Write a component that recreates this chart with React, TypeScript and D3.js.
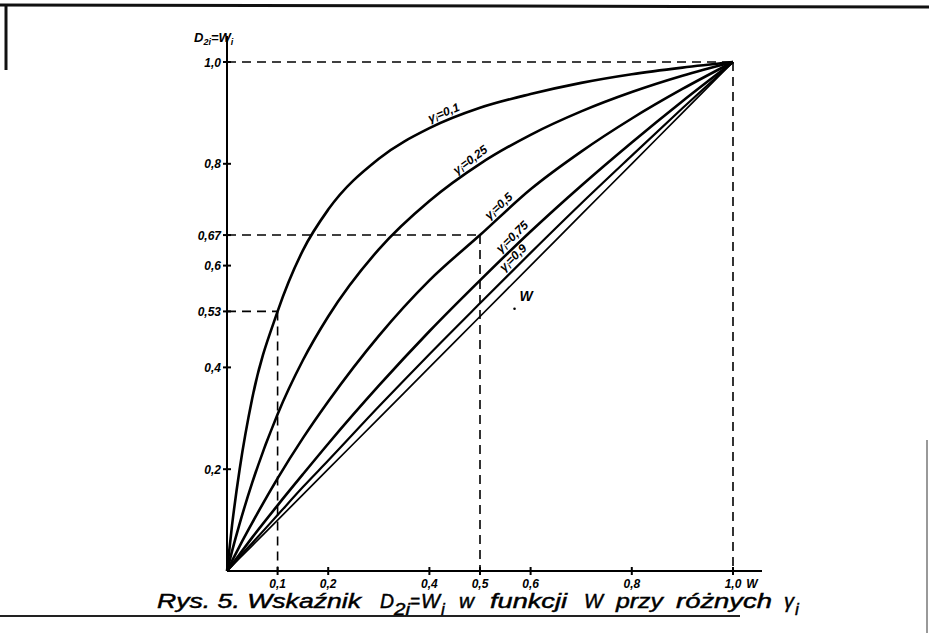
import React from "react";
import * as d3 from "d3";

const wValues = [0, 0.01, 0.025, 0.05, 0.1, 0.15, 0.2, 0.3, 0.4, 0.5, 0.6, 0.7, 0.8, 0.9, 1.0];
const gamma01 = [0, 0.09, 0.2, 0.34, 0.51, 0.63, 0.71, 0.81, 0.87, 0.91, 0.937, 0.959, 0.976, 0.989, 1];
const gamma025 = [0, 0.039, 0.093, 0.174, 0.308, 0.414, 0.5, 0.632, 0.727, 0.8, 0.857, 0.903, 0.941, 0.973, 1];
const gamma05 = [0, 0.02, 0.049, 0.095, 0.182, 0.261, 0.333, 0.462, 0.571, 0.66, 0.75, 0.824, 0.889, 0.947, 1];
const gamma075 = [0, 0.013, 0.033, 0.066, 0.129, 0.19, 0.25, 0.364, 0.471, 0.571, 0.667, 0.757, 0.842, 0.923, 1];
const gamma09 = [0, 0.011, 0.028, 0.055, 0.11, 0.165, 0.217, 0.323, 0.426, 0.526, 0.625, 0.722, 0.816, 0.909, 1];
const gammaW = [0, 0.01, 0.025, 0.05, 0.1, 0.15, 0.2, 0.3, 0.4, 0.5, 0.6, 0.7, 0.8, 0.9, 1.0];

const seriesNames = ["0,1", "0,25", "0,5", "0,75", "0,9", "W"];
const seriesValues = [gamma01, gamma025, gamma05, gamma075, gamma09, gammaW];
const labelAtW = [0.405, 0.46, 0.525, 0.548, 0.555, 0.59];

const xTickValues = [0.1, 0.2, 0.4, 0.5, 0.6, 0.8, 1.0];
const xTickLabels = ["0,1", "0,2", "0,4", "0,5", "0,6", "0,8", "1,0"];
const yTickValues = [0.2, 0.4, 0.51, 0.6, 0.66, 0.8, 1.0];
const yTickLabels = ["0,2", "0,4", "0,53", "0,6", "0,67", "0,8", "1,0"];

// guide points (W, D) marked with dashed lines
const guideW = [0.1, 0.5, 1.0];
const guideD = [0.51, 0.66, 1.0];

const W = 929;
const H = 637;

export default function App() {
  const x = d3.scaleLinear().domain([0, 1]).range([227, 733]);
  const y = d3.scaleLinear().domain([0, 1]).range([571, 62]);

  const line = d3
    .line<[number, number]>()
    .x((d) => x(d[0]))
    .y((d) => y(d[1]))
    .curve(d3.curveMonotoneX);

  const interp = (vals: number[], w: number) => {
    for (let i = 1; i < wValues.length; i++) {
      if (w <= wValues[i]) {
        const t = (w - wValues[i - 1]) / (wValues[i] - wValues[i - 1]);
        return vals[i - 1] + t * (vals[i] - vals[i - 1]);
      }
    }
    return vals[vals.length - 1];
  };

  const tickFont = {
    fontFamily: "Liberation Sans, Arial, sans-serif",
    fontStyle: "italic" as const,
    fontWeight: 700,
    fontSize: 12,
  };

  return (
    <div style={{ position: "absolute", left: 0, top: 0, width: W, height: H, background: "#fff" }}>
      <svg width={W} height={H} viewBox={`0 0 ${W} ${H}`} style={{ display: "block" }}>
        <rect x={0} y={0} width={W} height={H} fill="#fff" />
        {/* scan frame */}
        <line x1={0} y1={5} x2={W} y2={7} stroke="#111" strokeWidth={3} />
        <line x1={6} y1={4} x2={6} y2={70} stroke="#111" strokeWidth={3} />
        <line x1={0} y1={616} x2={740} y2={616} stroke="#222" strokeWidth={2} />
        <line x1={927} y1={440} x2={927} y2={633} stroke="#999" strokeWidth={2} />

        {/* dashed guides */}
        {guideW.map((gw, i) => (
          <g key={"g" + i}>
            <line x1={x(0)} y1={y(guideD[i])} x2={x(gw)} y2={y(guideD[i])} stroke="#000" strokeWidth={1.6} strokeDasharray="9,6" />
            <line x1={x(gw)} y1={y(guideD[i])} x2={x(gw)} y2={y(0)} stroke="#000" strokeWidth={1.6} strokeDasharray="9,6" />
          </g>
        ))}

        {/* axes */}
        <line x1={x(0)} y1={y(0)} x2={x(0)} y2={36} stroke="#000" strokeWidth={2} />
        <line x1={x(0)} y1={y(0)} x2={762} y2={y(0)} stroke="#000" strokeWidth={2} />
        {xTickValues.map((v, i) => (
          <g key={"xt" + i}>
            <line x1={x(v)} y1={y(0) - 4} x2={x(v)} y2={y(0) + 4} stroke="#000" strokeWidth={2} />
            <text x={x(v)} y={y(0) + 17} textAnchor="middle" {...tickFont}>
              {xTickLabels[i]}
            </text>
          </g>
        ))}
        <text x={752} y={y(0) + 17} textAnchor="middle" {...tickFont}>W</text>
        {yTickValues.map((v, i) => (
          <g key={"yt" + i}>
            <line x1={x(0) - 4} y1={y(v)} x2={x(0) + 4} y2={y(v)} stroke="#000" strokeWidth={2} />
            <text x={x(0) - 6} y={y(v) + 4.5} textAnchor="end" {...tickFont}>
              {yTickLabels[i]}
            </text>
          </g>
        ))}
        <text x={194} y={42} {...tickFont} fontSize={13}>
          D<tspan fontSize={9} dy={3}>2i</tspan>
          <tspan dy={-3}>=W</tspan>
          <tspan fontSize={9} dy={3}>i</tspan>
        </text>

        {/* curves */}
        {seriesValues.map((vals, si) => {
          const pts = wValues.map((w, i) => [w, vals[i]] as [number, number]);
          const isW = seriesNames[si] === "W";
          return (
            <path
              key={"c" + si}
              d={line(pts) || ""}
              fill="none"
              stroke="#000"
              strokeWidth={isW ? 1.7 : si === 4 ? 2.2 : 2.6}
              strokeLinejoin="round"
            />
          );
        })}

        {/* curve labels */}
        {seriesValues.map((vals, si) => {
          const lw = labelAtW[si];
          const name = seriesNames[si];
          if (name === "W") {
            const px = x(lw);
            const py = y(interp(vals, lw));
            return (
              <g key={"l" + si}>
                <text x={px - 6} y={py + 30} {...tickFont} fontSize={14}>W</text>
                <circle cx={px - 11} cy={py + 38} r={1.3} fill="#000" />
              </g>
            );
          }
          const x0 = x(lw);
          const y0 = y(interp(vals, lw));
          const x1 = x(lw + 0.04);
          const y1 = y(interp(vals, lw + 0.04));
          const ang = (Math.atan2(y1 - y0, x1 - x0) * 180) / Math.PI;
          return (
            <text
              key={"l" + si}
              transform={`translate(${x0},${y0}) rotate(${ang}) translate(0,-5)`}
              {...tickFont}
              fontSize={12}
            >
              γ<tspan fontSize={8} dy={2}>i</tspan>
              <tspan dy={-2}>={name}</tspan>
            </text>
          );
        })}

        {/* caption */}
        <g
          fontFamily="Liberation Sans, Arial, sans-serif"
          fontStyle="italic"
          fontSize={20}
          fill="#000"
          stroke="#000"
          strokeWidth={0.45}
        >
          <text x={157} y={608} textLength={204} lengthAdjust="spacingAndGlyphs">Rys. 5. Wskaźnik</text>
          <text x={380} y={608} textLength={14} lengthAdjust="spacingAndGlyphs">D</text>
          <text x={394} y={615} fontSize={17} textLength={16} lengthAdjust="spacingAndGlyphs">2i</text>
          <text x={410} y={608} textLength={10} lengthAdjust="spacingAndGlyphs">=</text>
          <text x={421} y={608} textLength={19} lengthAdjust="spacingAndGlyphs">W</text>
          <text x={441} y={615} fontSize={17}>i</text>
          <text x={459} y={608} textLength={15} lengthAdjust="spacingAndGlyphs">w</text>
          <text x={490} y={608} textLength={77} lengthAdjust="spacingAndGlyphs">funkcji</text>
          <text x={584} y={608} textLength={19} lengthAdjust="spacingAndGlyphs">W</text>
          <text x={616} y={608} textLength={47} lengthAdjust="spacingAndGlyphs">przy</text>
          <text x={676} y={608} textLength={96} lengthAdjust="spacingAndGlyphs">różnych</text>
          <text x={784} y={608}>γ</text>
          <text x={795} y={615} fontSize={17}>i</text>
        </g>
      </svg>
    </div>
  );
}
